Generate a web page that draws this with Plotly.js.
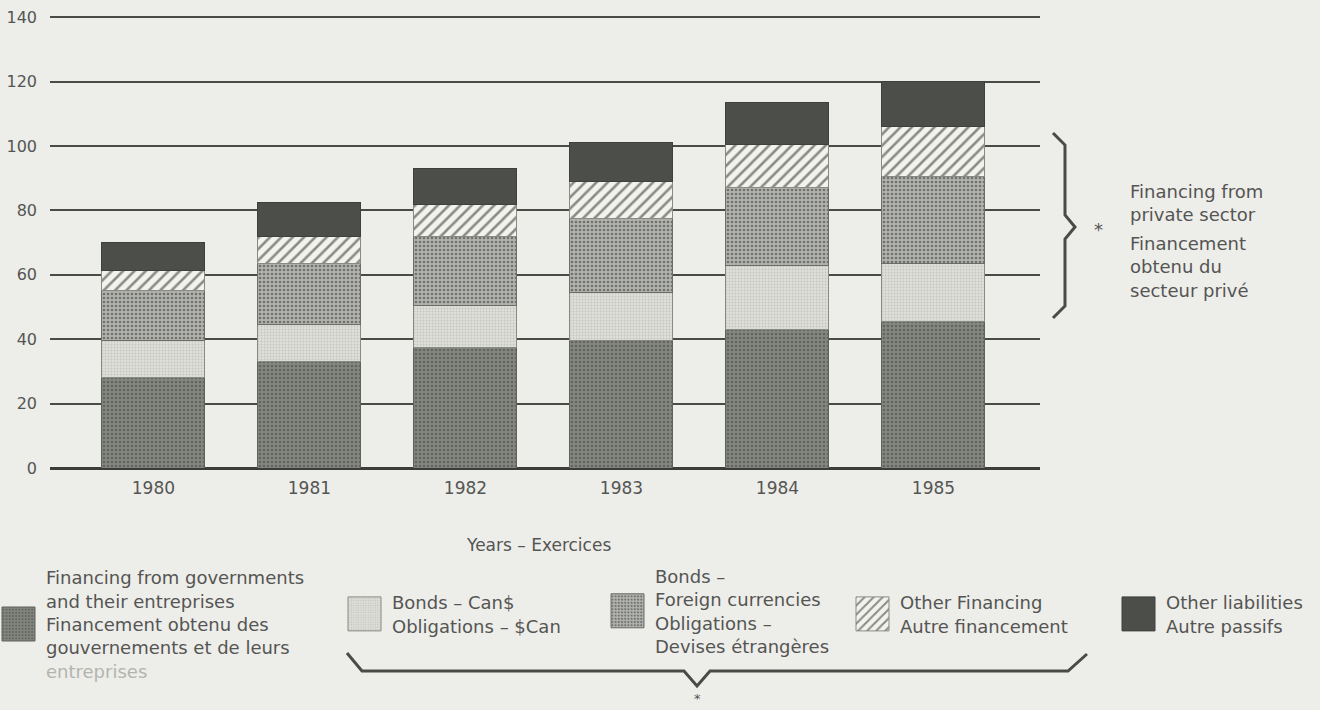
<!DOCTYPE html>
<html>
<head>
<meta charset="utf-8">
<script src="https://cdn.plot.ly/plotly-3.0.1.min.js"></script>
<style>
  html, body { margin: 0; padding: 0; background: #ededea; }
  #chart { width: 1320px; height: 710px; }
</style>
</head>
<body>
<div id="chart"></div>
<script>
// ---- data ----
const years = ['1980', '1981', '1982', '1983', '1984', '1985'];
const govFinancing     = [28, 33, 37.5, 39.5, 43, 45.5];
const bondsCan         = [11.5, 11.5, 13, 15, 20, 18];
const bondsForeign     = [15.5, 19, 21.5, 23, 24, 27];
const otherFinancing   = [6.5, 8.5, 10, 11.5, 13.5, 15.5];
const otherLiabilities = [8.5, 10.5, 11, 12, 13, 14];
const yTickValues = [0, 20, 40, 60, 80, 100, 120, 140];

const seriesNames = [
  'Financing from governments<br>and their entreprises<br>Financement obtenu des<br>gouvernements et de leurs<br><span style="color:#b4b4af">entreprises</span>',
  'Bonds – Can$<br>Obligations – $Can',
  'Bonds –<br>Foreign currencies<br>Obligations –<br>Devises étrangères',
  'Other Financing<br>Autre financement',
  'Other liabilities<br>Autre passifs'
];

// ---- geometry helpers (pixel -> paper) ----
const W = 1320, H = 710;
const M = { l: 50, r: 280, t: 16, b: 242, autoexpand: false };
const PW = W - M.l - M.r, PH = H - M.t - M.b;
const px = x => (x - M.l) / PW;
const py = y => (H - M.b - y) / PH;

const TXT = '#555553';
const FONT = 'DejaVu Sans, Verdana, sans-serif';

function barTrace(values, idx, marker) {
  return {
    type: 'bar', x: years, y: values, name: seriesNames[idx],
    legend: idx === 0 ? 'legend' : 'legend' + (idx + 1),
    showlegend: true,
    marker: marker, hoverinfo: 'x+y'
  };
}

const traces = [
  barTrace(govFinancing, 0, {
    color: '#7d807a', line: { color: '#5e605b', width: 1 },
    pattern: { shape: '.', fgcolor: '#62655f', bgcolor: '#848780', size: 4, solidity: 0.35, fillmode: 'replace' }
  }),
  barTrace(bondsCan, 1, {
    color: '#dcdcd7', line: { color: '#8a8a85', width: 1 },
    pattern: { shape: '.', fgcolor: '#c4c4be', bgcolor: '#e0e0db', size: 3, solidity: 0.3, fillmode: 'replace' }
  }),
  barTrace(bondsForeign, 2, {
    color: '#a7a8a3', line: { color: '#6c6d69', width: 1 },
    pattern: { shape: '.', fgcolor: '#6f716c', bgcolor: '#b2b3ae', size: 4, solidity: 0.35, fillmode: 'replace' }
  }),
  barTrace(otherFinancing, 3, {
    color: '#eeeeea', line: { color: '#8a8a85', width: 1 },
    pattern: { shape: '/', fgcolor: '#8b8b86', bgcolor: '#f2f2ee', size: 8, solidity: 0.32, fillmode: 'replace' }
  }),
  barTrace(otherLiabilities, 4, {
    color: '#4c4e4a', line: { color: '#3e403c', width: 1 }
  })
];

function legendBox(xPx, yPx) {
  return {
    x: px(xPx), y: py(yPx), xanchor: 'left', yanchor: 'middle',
    bgcolor: 'rgba(0,0,0,0)', borderwidth: 0,
    font: { family: FONT, size: 18, color: TXT },
    itemwidth: 40, itemclick: false, itemdoubleclick: false
  };
}

const braceRight = [
  [1053, 133], [1065, 145], [1065, 215], [1075, 227], [1065, 239], [1065, 306], [1053, 318]
];
const braceBottom = [
  [347, 653], [362, 671], [684, 671], [697, 686], [710, 671], [1068, 671], [1087, 654]
];
function pathOf(pts) {
  return pts.map((p, i) => (i ? 'L' : 'M') + px(p[0]).toFixed(5) + ',' + py(p[1]).toFixed(5)).join(' ');
}

const layout = {
  width: W, height: H,
  margin: M,
  showlegend: true,
  paper_bgcolor: '#ededea',
  plot_bgcolor: '#ededea',
  barmode: 'stack',
  bargap: 0.34,
  font: { family: FONT, color: TXT, size: 16 },
  xaxis: {
    type: 'category',
    range: [-0.663, 5.683],
    showgrid: false, zeroline: false, showline: false,
    ticks: '', tickfont: { family: FONT, size: 17, color: TXT },
    ticklabelstandoff: 8,
    fixedrange: true
  },
  yaxis: {
    range: [0, 140.4],
    tickvals: yTickValues,
    showgrid: true, gridcolor: '#4a4a47', gridwidth: 2,
    zeroline: true, zerolinecolor: '#3c3c3a', zerolinewidth: 3,
    showline: false, ticks: '',
    tickfont: { family: FONT, size: 16, color: TXT },
    ticklabelstandoff: 12,
    fixedrange: true
  },
  legend:  legendBox(-4, 624),
  legend2: legendBox(342, 614),
  legend3: legendBox(605, 611),
  legend4: legendBox(850, 614),
  legend5: legendBox(1116, 614),
  shapes: [
    { type: 'path', xref: 'paper', yref: 'paper', path: pathOf(braceRight),
      line: { color: '#4a4a47', width: 3 } },
    { type: 'path', xref: 'paper', yref: 'paper', path: pathOf(braceBottom),
      line: { color: '#4a4a47', width: 3 } }
  ],
  annotations: [
    { text: 'Years – Exercices', xref: 'paper', yref: 'paper', x: px(538), y: py(545),
      xanchor: 'center', yanchor: 'middle', showarrow: false,
      font: { family: FONT, size: 17, color: TXT } },
    { text: 'Financing from<br>private sector', xref: 'paper', yref: 'paper', x: px(1128), y: py(203),
      xanchor: 'left', yanchor: 'middle', align: 'left', showarrow: false,
      font: { family: FONT, size: 18, color: TXT } },
    { text: 'Financement<br>obtenu du<br>secteur privé', xref: 'paper', yref: 'paper', x: px(1128), y: py(267),
      xanchor: 'left', yanchor: 'middle', align: 'left', showarrow: false,
      font: { family: FONT, size: 18, color: TXT } },
    { text: '*', xref: 'paper', yref: 'paper', x: px(1098), y: py(230),
      xanchor: 'center', yanchor: 'middle', showarrow: false,
      font: { family: FONT, size: 18, color: TXT } },
    { text: '*', xref: 'paper', yref: 'paper', x: px(697), y: py(699),
      xanchor: 'center', yanchor: 'middle', showarrow: false,
      font: { family: FONT, size: 13, color: TXT } }
  ]
};

Plotly.newPlot('chart', traces, layout, { displayModeBar: false }).then(function (gd) {
  // enlarge legend swatches to the large keys of the original (pattern keeps its scale)
  gd.querySelectorAll('.legendpoints path').forEach(function (p) {
    p.setAttribute('d', 'M14,17H-19V-17H14Z');
  });
});
</script>
</body>
</html>
